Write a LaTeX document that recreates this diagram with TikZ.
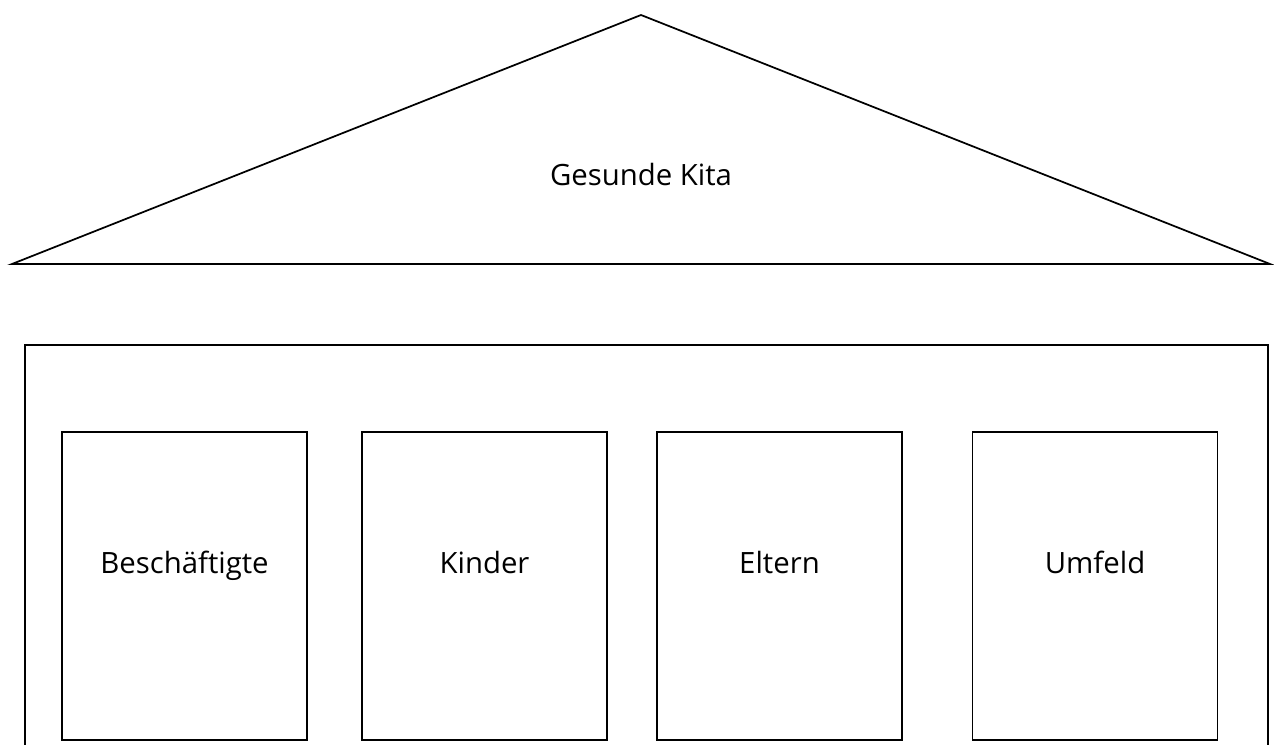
\documentclass[tikz,border=0pt]{standalone}
\usepackage{fontspec}
\setmainfont{Open Sans}
\usepackage{tikz}
\tikzstyle{pillar}=[rectangle, draw, line width=1.3pt, minimum width=183.75pt, minimum height=231pt, inner sep=0pt]
\tikzstyle{caption}=[anchor=base, font=\fontsize{22}{26}\selectfont]
\begin{document}
\begin{tikzpicture}[x=0.75pt, y=-0.75pt, line width=1.3pt]
                    \useasboundingbox (0,0) rectangle (1274,745);
                    % roof
                    \coordinate (rl) at (12,264);
                    \coordinate (rt) at (641,15);
                    \coordinate (rr) at (1270,264);
                    \draw[line join=miter] (rl)--(rt)--(rr)--cycle;
                    \node[caption] (roof) at (641,186) {Gesunde Kita};
                    % house
                    \coordinate (hl) at (25,760);
                    \coordinate (hr) at (1268,760);
                    \draw (hl) |- (641,345) -| (hr);
                    \node[pillar] (p1) at (184.5,586) {};
                    \node[pillar] (p2) at (484.5,586) {};
                    \node[pillar] (p3) at (779.5,586) {};
                    \node[pillar] (p4) at (1095,586) {};
                    \node[caption] (t1) at (p1.center |- 0,573) {Beschäftigte};
                    \node[caption] (t2) at (p2.center |- 0,573) {Kinder};
                    \node[caption] (t3) at (p3.center |- 0,573) {Eltern};
                    \node[caption] (t4) at (p4.center |- 0,573) {Umfeld};
                \end{tikzpicture}
\end{document}
